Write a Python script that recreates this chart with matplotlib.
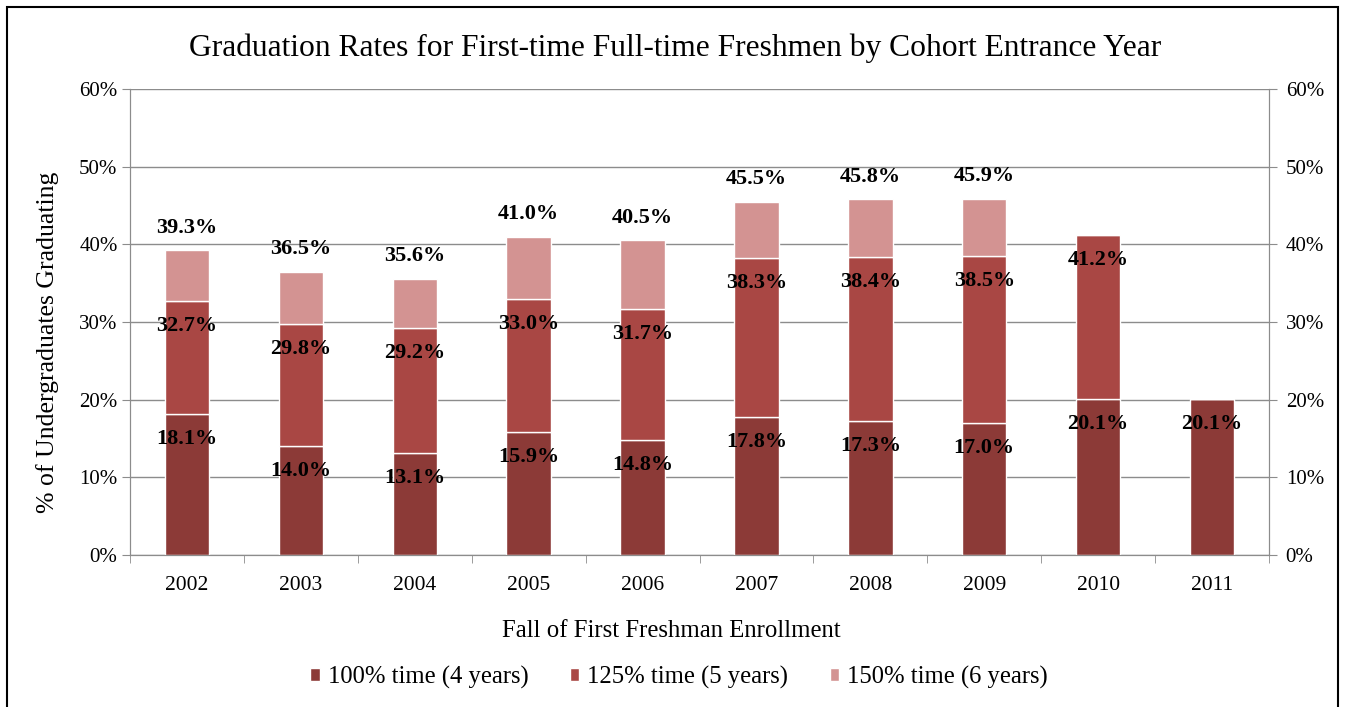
import matplotlib.pyplot as plt
import numpy as np
from matplotlib.patches import Rectangle

plt.rcParams['font.family'] = ['Liberation Serif', 'DejaVu Serif']

years = ["2002", "2003", "2004", "2005", "2006", "2007", "2008", "2009", "2010", "2011"]
# cumulative rates (None = no data yet)
rate_4yr = [18.1, 14.0, 13.1, 15.9, 14.8, 17.8, 17.3, 17.0, 20.1, 20.1]
rate_5yr = [32.7, 29.8, 29.2, 33.0, 31.7, 38.3, 38.4, 38.5, 41.2, None]
rate_6yr = [39.3, 36.5, 35.6, 41.0, 40.5, 45.5, 45.8, 45.9, None, None]

c4 = "#8c3a37"
c5 = "#a94744"
c6 = "#d39392"
grid_c = "#8c8c8c"

fig = plt.figure(figsize=(13.46, 7.07), dpi=100)
ax = fig.add_axes([0.0966, 0.215, 0.8462, 0.6591])

x = np.arange(len(years))
w = 0.39

# turn cumulative into segment heights
seg4 = np.array(rate_4yr)
seg5 = np.array([(b - a) if b is not None else 0 for a, b in zip(rate_4yr, rate_5yr)])
seg6 = np.array([(c - b) if c is not None else 0 for b, c in zip(rate_5yr, rate_6yr)])

ax.bar(x, seg4, w, color=c4, edgecolor="white", linewidth=1, label="100% time (4 years)", zorder=3)
ax.bar(x, seg5, w, bottom=seg4, color=c5, edgecolor="white", linewidth=1, label="125% time (5 years)", zorder=3)
ax.bar(x, seg6, w, bottom=seg4 + seg5, color=c6, edgecolor="white", linewidth=1, label="150% time (6 years)", zorder=3)

lab_kw = dict(ha="center", va="center", fontsize=16, fontweight="bold", textcoords="offset points", zorder=5)
for i in range(len(years)):
    ax.annotate("%.1f%%" % rate_4yr[i], (x[i], rate_4yr[i]), xytext=(0, -18), **lab_kw)
    if rate_5yr[i] is not None:
        ax.annotate("%.1f%%" % rate_5yr[i], (x[i], rate_5yr[i]), xytext=(0, -18), **lab_kw)
    if rate_6yr[i] is not None:
        ax.annotate("%.1f%%" % rate_6yr[i], (x[i], rate_6yr[i]), xytext=(0, 16), **lab_kw)

ax.set_ylim(0, 60)
ax.set_xlim(-0.5, len(years) - 0.5)
yt = np.arange(0, 61, 10)
ax.set_yticks(yt)
ax.set_yticklabels(["%d%%" % v for v in yt], fontsize=15)
ax.yaxis.grid(True, color=grid_c, linewidth=1, zorder=0)
ax.set_xticks(x)
ax.set_xticklabels(years, fontsize=15.5)
ax.set_xticks(np.arange(-0.5, len(years), 1), minor=True)
ax.tick_params(axis="x", which="major", length=0, pad=15)
ax.tick_params(axis="x", which="minor", length=6, color=grid_c)
ax.tick_params(axis="y", length=6, color=grid_c, pad=3)
for s in ax.spines.values():
    s.set_color(grid_c)
ax.spines["top"].set_visible(False)

ax2 = ax.twinx()
ax2.set_ylim(0, 60)
ax2.set_yticks(yt)
ax2.set_yticklabels(["%d%%" % v for v in yt], fontsize=15)
ax2.tick_params(axis="y", length=6, color=grid_c, pad=6)
for s in ax2.spines.values():
    s.set_color(grid_c)
ax2.spines["top"].set_visible(False)

ax.set_xlabel("Fall of First Freshman Enrollment", fontsize=17.8, labelpad=18)
ax.xaxis.label.set_x(0.475)
ax.set_ylabel("% of Undergraduates Graduating", fontsize=18.5)
ax.yaxis.set_label_coords(-0.062, 0.457)
fig.suptitle("Graduation Rates for First-time Full-time Freshmen by Cohort Entrance Year",
             fontsize=22.7, x=0.5015, y=0.953)

leg = ax.legend(loc="center", bbox_to_anchor=(0.482, -0.262), ncol=3, frameon=False,
                fontsize=17.7, handlelength=0.4, handleheight=0.4, handletextpad=0.33,
                columnspacing=1.67)

# outer chart border
fig.patches.append(Rectangle((7 / 1346, -0.05), 1331 / 1346, 1.05 - 7 / 707,
                             transform=fig.transFigure, fill=False,
                             edgecolor="black", linewidth=1.5))

fig.savefig("out.png", dpi=100)
